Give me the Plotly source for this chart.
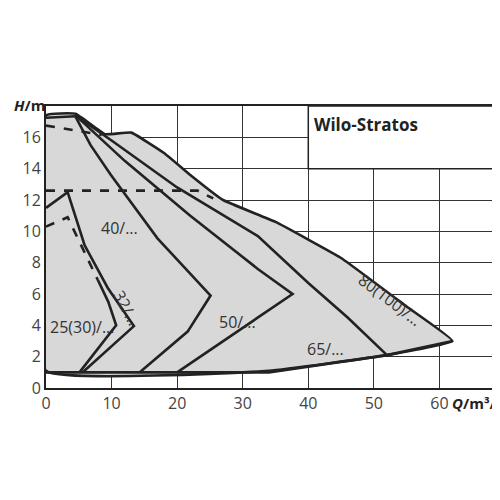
import plotly.graph_objects as go

env_x = [0, 4.5, 9, 13, 18, 22, 27, 35, 45, 55, 62, 52, 34, 0, 0]
env_y = [17.4, 17.5, 16.2, 16.3, 15.0, 13.6, 12.0, 10.6, 8.3, 5.2, 3.0, 2.1, 1.1, 1.1, 17.4]
top_x = [0, 4.5]; top_y = [17.25, 17.35]
c65_x = [4.5, 10, 20, 32.3, 40, 46, 52]; c65_y = [17.4, 15.8, 12.8, 9.7, 6.7, 4.5, 2.1]
c50_x = [4.5, 12, 22, 32.3, 37.6, 20]; c50_y = [17.4, 14.5, 11.0, 7.6, 6.0, 1.0]
c40_x = [4.4, 6.8, 9.9, 17, 25.1, 21.6, 14.3]; c40_y = [17.4, 15.5, 13.6, 9.55, 5.9, 3.6, 1.0]
c32_x = [0, 3.3, 5.9, 9.4, 13.4, 5.6]; c32_y = [11.5, 12.5, 9.1, 6.4, 3.95, 1.0]
c25d_x = [0, 3.3, 7.9]; c25d_y = [10.3, 10.9, 6.9]
c25_x = [7.9, 9.5, 10.7, 5.1]; c25_y = [6.9, 5.5, 4.0, 1.0]
d12_x = [0, 23.1, 25.5]; d12_y = [12.6, 12.6, 12.1]
d16_x = [0, 8.5]; d16_y = [16.75, 16.15]
bot_x = [0, 34, 52, 62]; bot_y = [1.0, 1.0, 2.1, 3.0]
labels = ["40/...", "32/...", "25(30)/...", "50/...", "65/...", "80(100)/..."]
lab_x = [11.2, 12.3, 5.6, 29.2, 42.6, 52.5]
lab_y = [10.2, 5.1, 3.9, 4.2, 2.5, 5.6]
lab_rot = [0, 62, 0, 0, 0, 37]

fig = go.Figure()
L = dict(color="#222", width=2.6)
fig.add_trace(go.Scatter(x=env_x, y=env_y, fill="toself", fillcolor="#d8d8d8", mode="lines",
                         line=dict(color="#222", width=2.6, shape="spline", smoothing=0.3)))
for xs, ys, dash in [(top_x, top_y, "solid"), (c65_x, c65_y, "solid"), (c50_x, c50_y, "solid"),
                     (c40_x, c40_y, "solid"), (c32_x, c32_y, "solid"), (c25d_x, c25d_y, "dash"),
                     (c25_x, c25_y, "solid"), (d12_x, d12_y, "dash"), (d16_x, d16_y, "dash"),
                     (bot_x, bot_y, "solid")]:
    fig.add_trace(go.Scatter(x=xs, y=ys, mode="lines", line=dict(color="#222", width=2.6, dash=dash)))
for t, x, y, r in zip(labels, lab_x, lab_y, lab_rot):
    fig.add_annotation(x=x, y=y, text=t, showarrow=False, textangle=r,
                       font=dict(size=16, color="#333", family="Open Sans"))

fig.add_shape(type="rect", x0=40, x1=70, y0=14, y1=18, fillcolor="white",
              line=dict(color="#222", width=1.5), layer="above")
fig.add_annotation(x=40.6, y=17.7, text="<b>Wilo-Stratos</b>", showarrow=False, xanchor="left", yanchor="top",
                   font=dict(size=17, color="#222", family="Open Sans"))
fig.add_annotation(xref="paper", yref="paper", x=-0.075, y=1.005, text="<b><i>H</i>/m</b>", showarrow=False,
                   xanchor="left", yanchor="middle", font=dict(size=15, color="#222", family="Open Sans"))
fig.add_annotation(xref="paper", yref="paper", x=0.88, y=-0.012, text="<b><i>Q</i>/m³/h</b>", showarrow=False,
                   xanchor="left", yanchor="top", font=dict(size=15, color="#222", family="Open Sans"))

ax = dict(showgrid=True, gridcolor="#333", gridwidth=1, zeroline=False, showline=True, linecolor="#222",
          linewidth=2, mirror=True, ticks="", automargin=False,
          tickfont=dict(size=16, color="#444", family="Open Sans"))
fig.update_xaxes(range=[0, 70], tickvals=[0, 10, 20, 30, 40, 50, 60, 70],
                 ticktext=["0", "10", "20", "30", "40", "50", "60", ""], **ax)
fig.update_yaxes(range=[0, 18], tickvals=list(range(0, 18, 2)), **ax)
fig.update_layout(width=500, height=500, margin=dict(l=38, r=3, t=98, b=120, autoexpand=False), showlegend=False,
                  plot_bgcolor="white", paper_bgcolor="white")
fig.write_html("out.html")
